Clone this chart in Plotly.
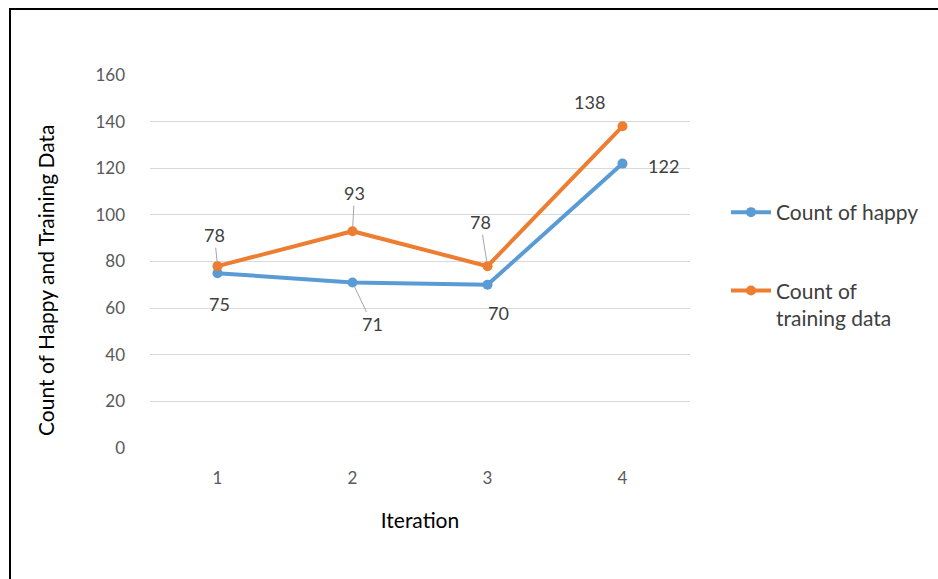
import plotly.graph_objects as go

# Chart data
iterations = [1, 2, 3, 4]
happy_counts = [75, 71, 70, 122]
training_counts = [78, 93, 78, 138]
series_names = ["Count of happy", "Count of<br>training data"]
y_tick_values = [0, 20, 40, 60, 80, 100, 120, 140, 160]
x_title = "Iteration"
y_title = "Count of Happy and Training Data"

BLUE = "#5B9BD5"
ORANGE = "#ED7D31"
FONT = "Lato"
TICK_GREY = "#595959"
LABEL_GREY = "#404040"
LEADER_GREY = "#A6A6A6"

W, H = 938, 579
ML, MR, MT, MB = 150, 248, 75, 131
PW, PH = W - ML - MR, H - MT - MB

fig = go.Figure()
for name, values, color, group in [
    (series_names[0], happy_counts, BLUE, "happy"),
    (series_names[1], training_counts, ORANGE, "training"),
]:
    fig.add_trace(go.Scatter(
        x=iterations, y=values, name=name, legendgroup=group,
        mode="lines+markers",
        line=dict(color=color, width=4),
        marker=dict(color=color, size=10),
        hoverinfo="x+y",
    ))

# Data labels: pixel offset from the point, and whether a leader line is drawn
happy_label_offsets = [(2, 31, False), (20, 42, True), (11, 28, False), (41, 2, False)]
training_label_offsets = [(-3, -31, True), (2, -38, True), (-7, -44, True), (-33, -24, False)]

annotations = []
for values, offsets in [(happy_counts, happy_label_offsets),
                        (training_counts, training_label_offsets)]:
    for xv, yv, (dx, dy, leader) in zip(iterations, values, offsets):
        common = dict(x=xv, y=yv, xref="x", yref="y", text=str(yv),
                      font=dict(family=FONT, size=18, color=LABEL_GREY))
        if leader:
            annotations.append(dict(**common, showarrow=True, ax=dx, ay=dy,
                                    arrowhead=0, arrowwidth=1,
                                    arrowcolor=LEADER_GREY, standoff=4))
        else:
            annotations.append(dict(**common, showarrow=False,
                                    xshift=dx, yshift=-dy))


def px_to_paper_x(px):
    return (px - ML) / PW


def px_to_paper_y(py):
    return (H - MB - py) / PH


# Vertical axis title, set slightly below the plot's centre
annotations.append(dict(
    text=y_title, xref="paper", yref="paper",
    x=px_to_paper_x(45), y=px_to_paper_y(281),
    xanchor="center", yanchor="middle", textangle=-90, showarrow=False,
    font=dict(family=FONT, size=21, color="black"),
))

# Frame around the chart (left and top edges)
shapes = [
    dict(type="line", xref="paper", yref="paper",
         x0=px_to_paper_x(10), x1=px_to_paper_x(10),
         y0=px_to_paper_y(600), y1=px_to_paper_y(8),
         line=dict(color="black", width=2)),
    dict(type="line", xref="paper", yref="paper",
         x0=px_to_paper_x(9), x1=px_to_paper_x(960),
         y0=px_to_paper_y(9), y1=px_to_paper_y(9),
         line=dict(color="black", width=2)),
]

fig.update_layout(
    width=W, height=H,
    margin=dict(l=ML, r=MR, t=MT, b=MB),
    paper_bgcolor="white", plot_bgcolor="white",
    font=dict(family=FONT, size=17, color=TICK_GREY),
    showlegend=True,
    legend=dict(
        x=px_to_paper_x(726), y=px_to_paper_y(192),
        xanchor="left", yanchor="top", valign="top",
        font=dict(family=FONT, size=21, color=LABEL_GREY),
        itemwidth=40,
        tracegroupgap=48, bgcolor="rgba(0,0,0,0)",
    ),
    xaxis=dict(
        range=[0.5, 4.5], tickvals=iterations,
        showgrid=False, zeroline=False, showline=False,
        ticks="", ticklabelstandoff=18,
        tickfont=dict(family=FONT, size=17, color=TICK_GREY),
        title=dict(text=x_title, standoff=26,
                   font=dict(family=FONT, size=21, color="black")),
        fixedrange=True,
    ),
    yaxis=dict(
        range=[0, 160], tickvals=y_tick_values,
        showgrid=True, gridcolor="#D9D9D9", gridwidth=1,
        zeroline=False, showline=False,
        ticks="", ticklabelstandoff=24,
        tickfont=dict(family=FONT, size=17, color=TICK_GREY),
        fixedrange=True,
    ),
    annotations=annotations,
    shapes=shapes,
)

fig.write_html("out.html", config=dict(displayModeBar=False))
